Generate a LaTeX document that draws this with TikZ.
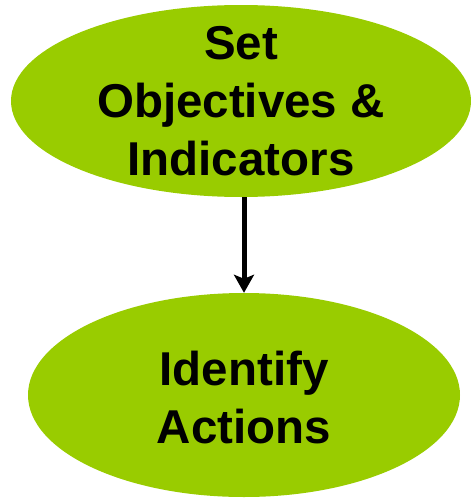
\documentclass[tikz,border=0pt]{standalone}
\usepackage{fontspec}
\setmainfont{Liberation Sans}
\usepackage{tikz}
\usetikzlibrary{arrows.meta,shapes}
\definecolor{leaf}{HTML}{99CC00}
\tikzstyle{step oval}=[ellipse,fill=leaf,draw=none,inner sep=0pt]
\tikzstyle{step text}=[align=center,inner sep=0pt,font=\bfseries\fontsize{47.5}{58}\selectfont]
\tikzstyle{edge} = [draw,line width=5pt,-{Stealth[width=20pt,length=18pt,inset=4pt]}]

\begin{document}
\begin{tikzpicture}[x=1pt,y=-1pt]
    \useasboundingbox (0,0) rectangle (471,498);
    % the two steps, text laid on as centre labels
    \node[step oval,minimum width=460pt,minimum height=192pt,
          label={[step text]center:Set\\Objectives \&\\Indicators}] (setobj) at (241,101) {};
    \node[step oval,minimum width=432pt,minimum height=204pt,
          label={[step text,yshift=-3pt]center:Identify\\Actions}] (idact) at (244,395) {};

    % connect them
    \path[edge] (setobj.south -| idact.north) -- (idact.north);
\end{tikzpicture}
\end{document}
